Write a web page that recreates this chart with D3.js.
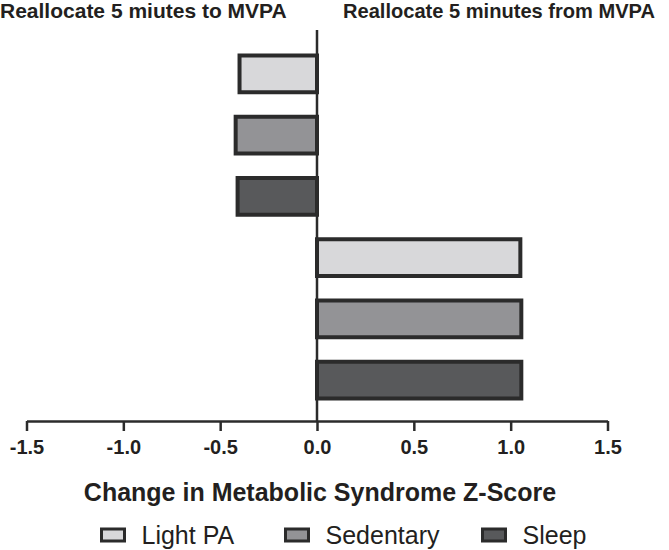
<!DOCTYPE html>
<html>
<head>
<meta charset="utf-8">
<script src="https://cdn.jsdelivr.net/npm/d3@7"></script>
<style>
  html, body { margin: 0; padding: 0; background: #fff; }
  svg { display: block; }
  text { font-family: "Liberation Sans", Arial, Helvetica, sans-serif; fill: #231f20; }
</style>
</head>
<body>
<svg id="chart" width="669" height="550"></svg>
<script>
// ---- data ----
const activities = ["Light PA", "Sedentary", "Sleep"];
const toMVPA = [-0.40, -0.42, -0.41];      // reallocate 5 minutes to MVPA
const fromMVPA = [1.05, 1.055, 1.055];     // reallocate 5 minutes from MVPA
const tickValues = [-1.5, -1.0, -0.5, 0.0, 0.5, 1.0, 1.5];
const groupTitles = ["Reallocate 5 miutes to MVPA", "Reallocate 5 minutes from MVPA"];
const xTitle = "Change in Metabolic Syndrome Z-Score";
const fills = ["#d8d8da", "#939396", "#58595b"];

// ---- build rows ----
const rows = [];
activities.forEach((a, i) => rows.push({ key: "to-" + a, act: a, idx: i, value: toMVPA[i] }));
activities.forEach((a, i) => rows.push({ key: "from-" + a, act: a, idx: i, value: fromMVPA[i] }));

const svg = d3.select("#chart");
const stroke = "#2b2b2b";

const x = d3.scaleLinear().domain([-1.5, 1.5]).range([26.5, 607.5]);
const y = d3.scaleBand().domain(rows.map(d => d.key)).range([31, 423]).padding(0.4);
const color = d3.scaleOrdinal().domain(activities).range(fills);

// bars
svg.append("g").selectAll("rect")
  .data(rows)
  .join("rect")
  .attr("x", d => Math.min(x(d.value), x(0)))
  .attr("width", d => Math.abs(x(d.value) - x(0)))
  .attr("y", d => y(d.key))
  .attr("height", y.bandwidth())
  .attr("fill", d => color(d.act))
  .attr("stroke", stroke)
  .attr("stroke-width", 4);

// zero (vertical) line
svg.append("line")
  .attr("x1", x(0)).attr("x2", x(0))
  .attr("y1", 30).attr("y2", 421)
  .attr("stroke", stroke).attr("stroke-width", 2.5);

// x axis
const fmt = d3.format(".1f");
const xAxis = d3.axisBottom(x)
  .tickValues(tickValues)
  .tickFormat(d => fmt(d).replace("\u2212", "-"))
  .tickSizeInner(10)
  .tickSizeOuter(0)
  .tickPadding(9);

const gx = svg.append("g")
  .attr("transform", "translate(0,421)")
  .call(xAxis);
gx.select(".domain").attr("stroke", stroke).attr("stroke-width", 2.5);
gx.selectAll(".tick line").attr("stroke", stroke).attr("stroke-width", 2.5);
gx.selectAll(".tick text")
  .attr("fill", "#231f20")
  .style("font-family", "'Liberation Sans', Arial, sans-serif")
  .style("font-size", "20px")
  .style("font-weight", "bold");

// x-axis title
svg.append("text")
  .attr("x", 320).attr("y", 501)
  .attr("text-anchor", "middle")
  .style("font-size", "25px")
  .style("font-weight", "bold")
  .text(xTitle);

// group titles
svg.append("text")
  .attr("x", 0).attr("y", 18)
  .style("font-size", "21px").style("font-weight", "bold")
  .text(groupTitles[0]);
svg.append("text")
  .attr("x", 343).attr("y", 18)
  .attr("textLength", 312)
  .attr("lengthAdjust", "spacingAndGlyphs")
  .style("font-size", "21px").style("font-weight", "bold")
  .text(groupTitles[1]);

// legend
const legendX = [101.5, 285.5, 482.5];
const lg = svg.append("g").selectAll("g")
  .data(activities)
  .join("g")
  .attr("transform", (d, i) => `translate(${legendX[i]},0)`);
lg.append("rect")
  .attr("x", 0).attr("y", 529)
  .attr("width", 23).attr("height", 12)
  .attr("fill", d => color(d))
  .attr("stroke", stroke).attr("stroke-width", 3);
lg.append("text")
  .attr("x", 40).attr("y", 544)
  .style("font-size", "25px")
  .text(d => d);
</script>
</body>
</html>
